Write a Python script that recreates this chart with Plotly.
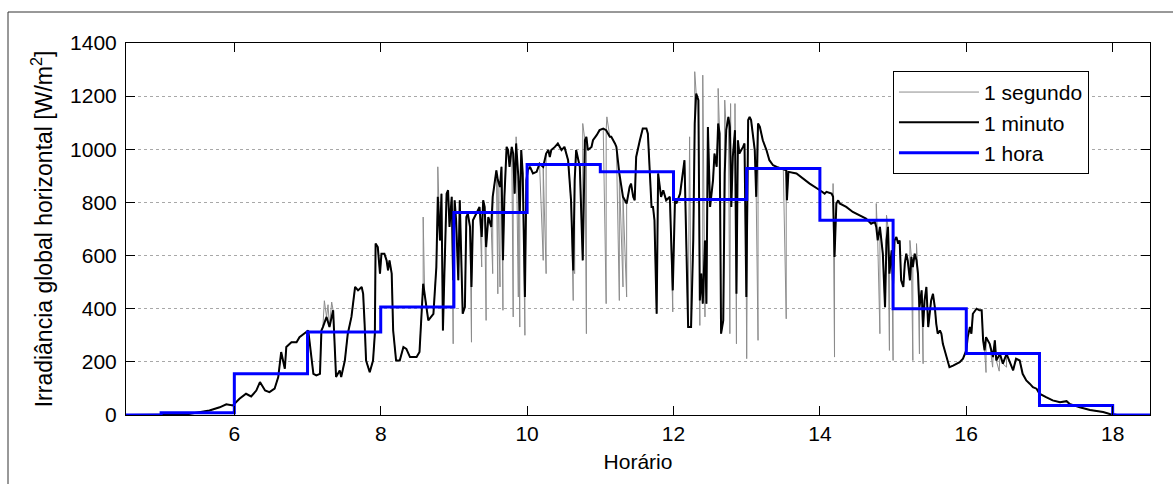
import plotly.graph_objects as go

# ---------------- data ----------------
# 1-minute series: hour of day, irradiance W/m2
minute_h = [4.53, 5.34, 5.66, 5.80, 5.89, 5.98, 6.07, 6.16, 6.23, 6.30, 6.35, 6.42, 6.48, 6.55,
            6.60, 6.64, 6.69, 6.71, 6.78, 6.85, 6.89, 6.96, 7.01, 7.08, 7.12, 7.17, 7.19, 7.21,
            7.26, 7.30, 7.35, 7.39, 7.44, 7.46, 7.51, 7.55, 7.60, 7.65, 7.69, 7.74, 7.76, 7.78,
            7.80, 7.85, 7.895, 7.92, 7.93, 7.96, 7.99, 8.01, 8.05, 8.08, 8.10, 8.12, 8.15, 8.17,
            8.21, 8.26, 8.31, 8.35, 8.40, 8.49, 8.53, 8.58, 8.60, 8.65, 8.72, 8.76, 8.78, 8.81,
            8.83, 8.85, 8.87, 8.90, 8.92, 8.94, 8.97, 8.99, 9.01, 9.03, 9.06,
            9.08, 9.12, 9.15, 9.17, 9.19, 9.22, 9.24, 9.26, 9.28, 9.33, 9.35, 9.38, 9.40, 9.42,
            9.44, 9.47, 9.51, 9.53, 9.58, 9.60, 9.63, 9.65, 9.67, 9.69, 9.72, 9.74, 9.76, 9.79,
            9.81, 9.83, 9.85, 9.88, 9.90, 9.92, 9.94, 9.97, 9.99, 10.01, 10.04, 10.08, 10.13,
            10.17, 10.22, 10.26, 10.29, 10.31, 10.33, 10.38, 10.42, 10.47, 10.51, 10.56, 10.58,
            10.60, 10.63, 10.65, 10.67, 10.72, 10.76, 10.79, 10.81, 10.83, 10.88, 10.90, 10.95,
            10.99, 11.04, 11.08, 11.13, 11.15, 11.20, 11.22, 11.26, 11.31, 11.36, 11.40, 11.42,
            11.45, 11.47, 11.49, 11.54,
            11.58, 11.63, 11.65, 11.70, 11.72, 11.74, 11.77, 11.79, 11.81, 11.83, 11.86, 11.90,
            11.95, 11.99, 12.02, 12.04, 12.09, 12.13, 12.15, 12.20, 12.24, 12.27, 12.29, 12.31,
            12.34, 12.36, 12.38, 12.40, 12.43, 12.45, 12.47, 12.50, 12.54, 12.56, 12.59, 12.61,
            12.63, 12.65, 12.68, 12.70, 12.72, 12.75, 12.77, 12.79, 12.81, 12.84, 12.86, 12.88,
            12.90, 12.95, 12.97, 12.995, 13.02, 13.04, 13.06, 13.11, 13.13, 13.155, 13.18, 13.22,
            13.27, 13.31, 13.36, 13.41, 13.50, 13.54, 13.55, 13.57, 13.68, 13.77, 13.86,
            14.00, 14.065, 14.09, 14.16, 14.18, 14.20, 14.225, 14.25, 14.27, 14.36, 14.45, 14.54,
            14.63, 14.70, 14.75, 14.77, 14.79, 14.82, 14.86, 14.89, 14.91, 14.93, 14.95, 14.98,
            15.00, 15.02, 15.045, 15.07, 15.09, 15.11, 15.14, 15.16, 15.18, 15.20, 15.23, 15.25,
            15.27, 15.295, 15.32, 15.34, 15.36, 15.39, 15.41, 15.43, 15.455, 15.48, 15.50, 15.52,
            15.545, 15.57, 15.59, 15.61, 15.64, 15.66, 15.68, 15.73, 15.77, 15.82, 15.86, 15.91,
            15.955, 16.00, 16.02, 16.05, 16.07, 16.09, 16.14, 16.18,
            16.21, 16.23, 16.25, 16.27, 16.32, 16.365, 16.39, 16.41, 16.46, 16.50, 16.55, 16.59,
            16.64, 16.68, 16.73, 16.77, 16.82, 16.87, 16.91, 16.96, 17.00, 17.09, 17.18, 17.28,
            17.37, 17.41, 17.55, 17.69, 17.87, 17.96, 18.05, 18.51]
minute_v = [0, 2, 17, 29, 40, 36, 61, 80, 70, 92, 124, 92, 86, 99,
            143, 237, 174, 256, 274, 274, 293, 306, 318, 155, 149, 155, 318, 331,
            369, 331, 394, 143, 168, 143, 205, 306, 369, 482, 469, 482, 456, 343,
            205, 161, 205, 306, 645, 632, 532, 607, 607, 582, 544, 582, 532, 318,
            205, 205, 256, 249, 218, 218, 237, 494, 456, 356, 381, 557, 821, 657,
            833, 318, 532, 833, 846, 708, 821, 507, 808, 733, 507,
            808, 381, 406, 745, 758, 708, 482, 733, 745, 771, 783, 670, 808, 783,
            632, 745, 708, 821, 921, 884, 858, 934, 582, 821, 1009, 997, 934, 1009,
            984, 833, 1022, 896, 758, 997, 909, 444, 884, 921, 934, 909, 915,
            946, 934, 984, 997, 971, 997, 1009, 1022, 997, 1009, 959, 884,
            808, 544, 884, 997, 934, 582, 1034, 1047, 997, 1009, 1034, 1053,
            1072, 1078, 1072, 1047, 1047, 1022, 1009, 909, 821, 796, 858, 871,
            821, 808, 971, 1034,
            1078, 1078, 1059, 783, 783, 733, 381, 909, 858, 821, 846, 808,
            821, 469, 808, 796, 833, 909, 959, 331, 331, 657, 1097, 1210,
            1185, 431, 532, 419, 657, 419, 1084, 783, 884, 984, 934, 1097,
            1059, 306, 356, 909, 1072, 1122, 1084, 783, 971, 1072, 456, 1034,
            984, 1009, 1022, 444, 1110, 1122, 1110, 997, 821, 1097, 1084, 1034,
            997, 959, 940, 934, 927, 921, 808, 915, 909, 890, 871,
            846, 833, 840, 833, 821, 595, 796, 808, 796, 783, 764, 752,
            739, 720, 727, 708, 657, 708, 607, 406, 657, 708, 532, 620,
            494, 657, 670, 645, 657, 507, 482, 570, 607, 582, 507, 595,
            557, 607, 582, 532, 406, 469, 331, 431, 482, 331, 381, 431,
            456, 406, 343, 306, 318, 306, 268, 218, 180, 186, 193, 199,
            212, 243, 293, 331, 306, 381, 400, 394,
            394, 281, 243, 293, 268, 218, 281, 205, 230, 193, 230, 205,
            168, 212, 205, 155, 130, 117, 105, 99, 80, 67, 55, 48,
            52, 42, 29, 19, 11, 4, 1, 0]

# 1-second series: extra short spikes seen in the grey trace (added to the 1-minute points)
second_spike_h = [7.23, 7.28, 7.33, 8.58, 8.78, 8.99,
                  9.24, 9.38, 9.44, 9.53, 9.60, 9.63, 9.67, 9.81, 9.85, 9.88, 9.90, 9.97,
                  10.22, 10.26, 10.63, 10.65, 10.76, 10.81, 11.08, 11.09, 11.26, 11.31, 11.36,
                  11.99, 12.22, 12.29, 12.36, 12.40, 12.43, 12.61, 12.70, 12.77, 12.78, 12.84,
                  12.86, 13.00, 13.155, 13.54,
                  14.18, 14.20, 14.77, 14.82, 14.91, 14.95, 15.00, 15.23, 15.27, 15.32, 15.36,
                  15.41, 16.27, 16.36, 16.45, 16.55]
second_spike_v = [430, 415, 425, 745, 934, 268,
                  274, 557, 356, 532, 456, 482, 394, 369, 1047, 444, 331, 300,
                  582, 532, 431, 532, 1097, 306, 419, 1122, 431, 482, 444,
                  388, 1047, 1292, 337, 1279, 369, 1229, 1185, 306, 1172, 1172,
                  268, 212, 281, 362,
                  871, 218, 796, 306, 752, 243, 205, 657, 205, 645, 230,
                  193, 160, 180, 165, 180]

# 1-hour means (value holds from the listed hour to the next one)
hour_h = [4, 5, 6, 7, 8, 9, 10, 11, 12, 13, 14, 15, 16, 17, 18, 19]
hour_v = [0, 8, 155, 312, 406, 762, 943, 915, 811, 928, 733, 400, 231, 36, 0, 0]

series_names = ["1 segundo", "1 minuto", "1 hora"]
x_ticks = [6, 8, 10, 12, 14, 16, 18]
y_ticks = [0, 200, 400, 600, 800, 1000, 1200, 1400]

# grey 1-second trace = 1-minute points plus the short spikes, in time order
sec_pairs = sorted(list(zip(minute_h, minute_v)) + list(zip(second_spike_h, second_spike_v)))
second_h = [p[0] for p in sec_pairs]
second_v = [p[1] for p in sec_pairs]

FONT = "Liberation Sans, Arial, sans-serif"

fig = go.Figure()
fig.add_trace(go.Scatter(x=second_h, y=second_v, mode="lines", name=series_names[0],
                         line=dict(color="#8c8c8c", width=1)))
fig.add_trace(go.Scatter(x=minute_h, y=minute_v, mode="lines", name=series_names[1],
                         line=dict(color="black", width=2)))
fig.add_trace(go.Scatter(x=hour_h, y=hour_v, mode="lines", name=series_names[2],
                         line=dict(color="#0000ff", width=3, shape="hv")))

axis_common = dict(showline=True, linecolor="black", linewidth=1, mirror="ticks",
                   ticks="inside", ticklen=9, tickcolor="black", tickwidth=1,
                   zeroline=False, tickfont=dict(family=FONT, size=21, color="black"))

fig.update_xaxes(range=[4.52, 18.51], tickvals=x_ticks, showgrid=False,
                 title=dict(text="Horário", font=dict(family=FONT, size=21, color="black"),
                            standoff=10),
                 **axis_common)
fig.update_yaxes(range=[0, 1400], tickvals=y_ticks, showgrid=True, gridcolor="#a8a8a8",
                 griddash="dot", gridwidth=1, ticklabelstandoff=4,
                 title=dict(text="Irradiância global horizontal [W/m<sup>2</sup>]",
                            font=dict(family=FONT, size=23, color="black"), standoff=11),
                 **axis_common)

fig.update_layout(
    width=1173, height=484,
    margin=dict(l=126, r=23, t=43, b=69),
    plot_bgcolor="white", paper_bgcolor="white",
    font=dict(family=FONT, size=21, color="black"),
    showlegend=True,
    legend=dict(x=0.749, y=0.925, xanchor="left", yanchor="top",
                bgcolor="white", bordercolor="black", borderwidth=1,
                font=dict(family=FONT, size=21, color="black"),
                itemwidth=80, tracegroupgap=0),
    shapes=[dict(type="rect", xref="paper", yref="paper",
                 x0=(8 - 126) / 1024, x1=(1180 - 126) / 1024,
                 y0=-(500 - 415) / 372, y1=1 + (43 - 12) / 372,
                 line=dict(color="#333333", width=1), layer="below")],
)

# the page's default 8px body margin would shift the figure; remove it
fig.write_html("out.html", config={"displayModeBar": False},
               post_script="document.body.style.margin='0px';")
